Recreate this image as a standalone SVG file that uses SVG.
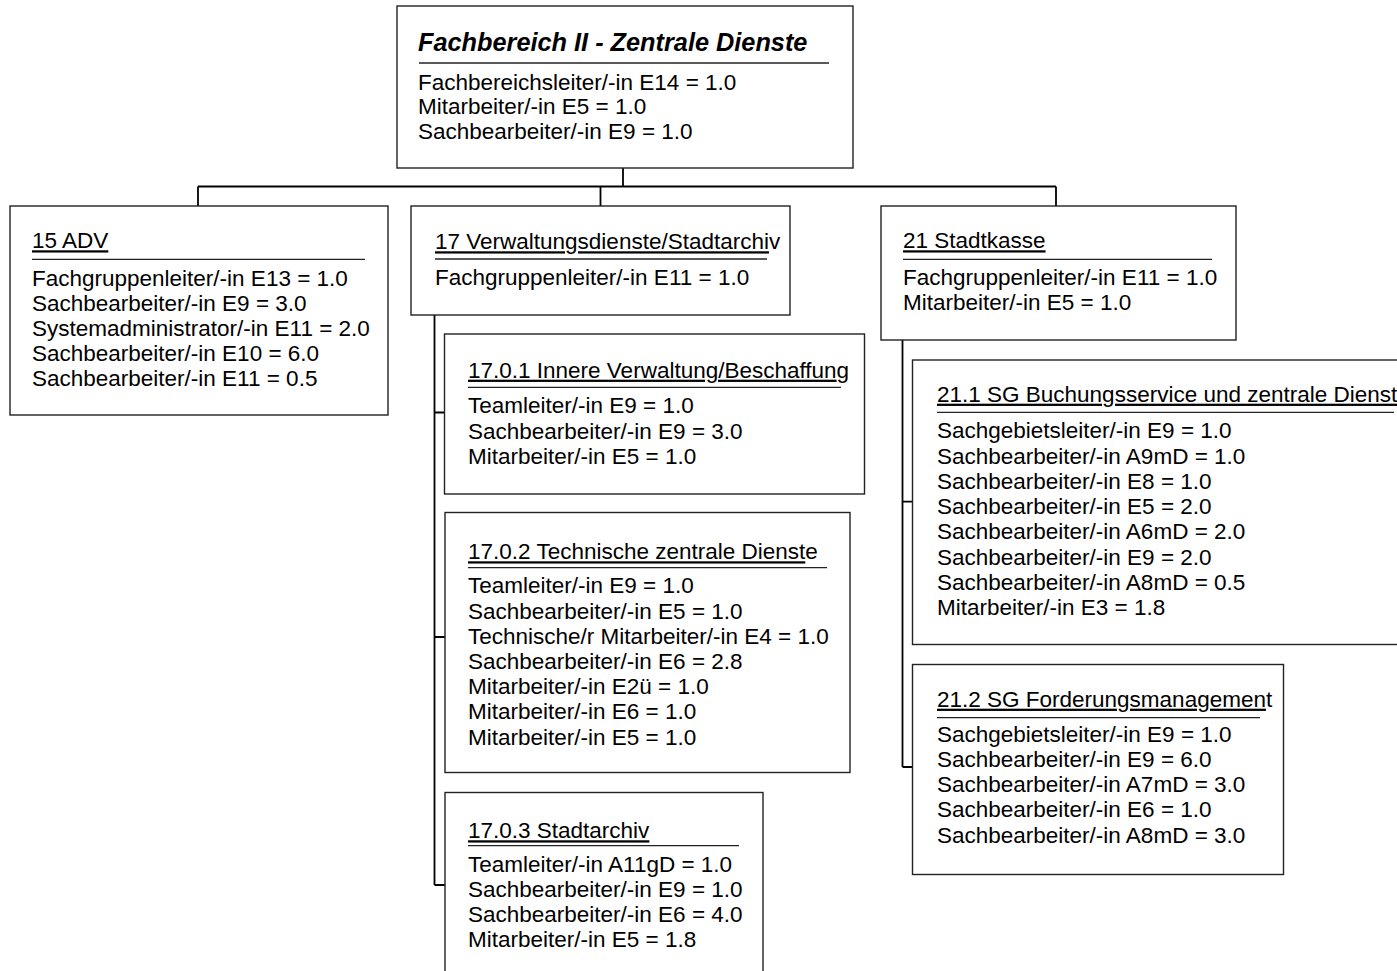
<svg xmlns="http://www.w3.org/2000/svg" width="1397" height="971" viewBox="0 0 1397 971">
<style>
.box{fill:#fff;stroke:#222;stroke-width:1.4}
.sep{stroke:#222;stroke-width:1.3}
.con{stroke:#000;stroke-width:1.8;fill:none}
text{font-family:"Liberation Sans",Arial,sans-serif;font-size:22.5px;fill:#000}
.ttl{font-weight:bold;font-style:italic;font-size:25.3px}
.u{text-decoration:underline}
</style>
<rect width="1397" height="971" fill="#fff"/>
<g id="connectors">
<path class="con" d="M623,168V186.5M198,186.5H1056M198,186.5V206M600.5,186.5V206M1056,186.5V206"/>
<path class="con" d="M434.5,315V885M434.5,412.5H445M434.5,637H445M434.5,885H445"/>
<path class="con" d="M902.5,340V767M902.5,501.7H912.5M902.5,767H912.5"/>
</g>
<g id="fb2">
<rect class="box" x="397" y="6" width="456" height="162"/>
<text class="ttl" x="418" y="50.5">Fachbereich II - Zentrale Dienste</text>
<line class="sep" x1="419" y1="63" x2="829" y2="63"/>
<text x="418" y="89.5">Fachbereichsleiter/-in E14 = 1.0</text>
<text x="418" y="114">Mitarbeiter/-in E5 = 1.0</text>
<text x="418" y="139">Sachbearbeiter/-in E9 = 1.0</text>
</g>
<g id="adv15">
<rect class="box" x="10" y="206" width="378" height="209"/>
<text x="32" y="248.3"><tspan class="u">15 ADV</tspan></text>
<line class="sep" x1="32" y1="259.3" x2="365" y2="259.3"/>
<text x="32" y="286">Fachgruppenleiter/-in E13 = 1.0</text>
<text x="32" y="311">Sachbearbeiter/-in E9 = 3.0</text>
<text x="32" y="336">Systemadministrator/-in E11 = 2.0</text>
<text x="32" y="361">Sachbearbeiter/-in E10 = 6.0</text>
<text x="32" y="386">Sachbearbeiter/-in E11 = 0.5</text>
</g>
<g id="vd17">
<rect class="box" x="411" y="206" width="379" height="109"/>
<text x="435" y="249.3"><tspan class="u">17 Verwaltungsdienste/Stadtarchi</tspan>v</text>
<line class="sep" x1="435" y1="259" x2="767" y2="259"/>
<text x="435" y="285">Fachgruppenleiter/-in E11 = 1.0</text>
</g>
<g id="sk21">
<rect class="box" x="881" y="206" width="355" height="134"/>
<text x="903" y="248.3"><tspan class="u">21 Stadtkasse</tspan></text>
<line class="sep" x1="903" y1="259.3" x2="1212" y2="259.3"/>
<text x="903" y="285">Fachgruppenleiter/-in E11 = 1.0</text>
<text x="903" y="310">Mitarbeiter/-in E5 = 1.0</text>
</g>
<g id="iv1701">
<rect class="box" x="444.5" y="334" width="420" height="160"/>
<text x="468" y="377.7"><tspan class="u">17.0.1 Innere Verwaltung/Beschaffun</tspan>g</text>
<line class="sep" x1="468" y1="387.3" x2="841" y2="387.3"/>
<text x="468" y="413.3">Teamleiter/-in E9 = 1.0</text>
<text x="468" y="438.5">Sachbearbeiter/-in E9 = 3.0</text>
<text x="468" y="463.7">Mitarbeiter/-in E5 = 1.0</text>
</g>
<g id="tz1702">
<rect class="box" x="445" y="512.5" width="405" height="260"/>
<text x="468" y="559.3"><tspan class="u">17.0.2 Technische zentrale Dienst</tspan>e</text>
<line class="sep" x1="468" y1="567.7" x2="827" y2="567.7"/>
<text x="468" y="593.3">Teamleiter/-in E9 = 1.0</text>
<text x="468" y="618.5">Sachbearbeiter/-in E5 = 1.0</text>
<text x="468" y="643.7">Technische/r Mitarbeiter/-in E4 = 1.0</text>
<text x="468" y="669">Sachbearbeiter/-in E6 = 2.8</text>
<text x="468" y="694">Mitarbeiter/-in E2ü = 1.0</text>
<text x="468" y="719.3">Mitarbeiter/-in E6 = 1.0</text>
<text x="468" y="744.5">Mitarbeiter/-in E5 = 1.0</text>
</g>
<g id="sa1703">
<rect class="box" x="445" y="792.5" width="318" height="220"/>
<text x="468" y="838.3"><tspan class="u">17.0.3 Stadtarchiv</tspan></text>
<line class="sep" x1="468" y1="845.7" x2="739" y2="845.7"/>
<text x="468" y="871.7">Teamleiter/-in A11gD = 1.0</text>
<text x="468" y="897">Sachbearbeiter/-in E9 = 1.0</text>
<text x="468" y="922">Sachbearbeiter/-in E6 = 4.0</text>
<text x="468" y="947">Mitarbeiter/-in E5 = 1.8</text>
</g>
<g id="bs211">
<rect class="box" x="912.5" y="360" width="520" height="284.5"/>
<text x="937" y="401.7"><tspan class="u">21.1 SG Buchungsservice und zentrale Dienst</tspan></text>
<line class="sep" x1="937" y1="412.3" x2="1394" y2="412.3"/>
<text x="937" y="438.3">Sachgebietsleiter/-in E9 = 1.0</text>
<text x="937" y="463.5">Sachbearbeiter/-in A9mD = 1.0</text>
<text x="937" y="488.8">Sachbearbeiter/-in E8 = 1.0</text>
<text x="937" y="514">Sachbearbeiter/-in E5 = 2.0</text>
<text x="937" y="539.3">Sachbearbeiter/-in A6mD = 2.0</text>
<text x="937" y="564.5">Sachbearbeiter/-in E9 = 2.0</text>
<text x="937" y="589.8">Sachbearbeiter/-in A8mD = 0.5</text>
<text x="937" y="615">Mitarbeiter/-in E3 = 1.8</text>
</g>
<g id="fm212">
<rect class="box" x="912.5" y="664.5" width="371" height="210"/>
<text x="937" y="706.7"><tspan class="u">21.2 SG Forderungsmanagemen</tspan>t</text>
<line class="sep" x1="937" y1="717.7" x2="1260" y2="717.7"/>
<text x="937" y="741.7">Sachgebietsleiter/-in E9 = 1.0</text>
<text x="937" y="767">Sachbearbeiter/-in E9 = 6.0</text>
<text x="937" y="792">Sachbearbeiter/-in A7mD = 3.0</text>
<text x="937" y="817.3">Sachbearbeiter/-in E6 = 1.0</text>
<text x="937" y="842.5">Sachbearbeiter/-in A8mD = 3.0</text>
</g>
</svg>
